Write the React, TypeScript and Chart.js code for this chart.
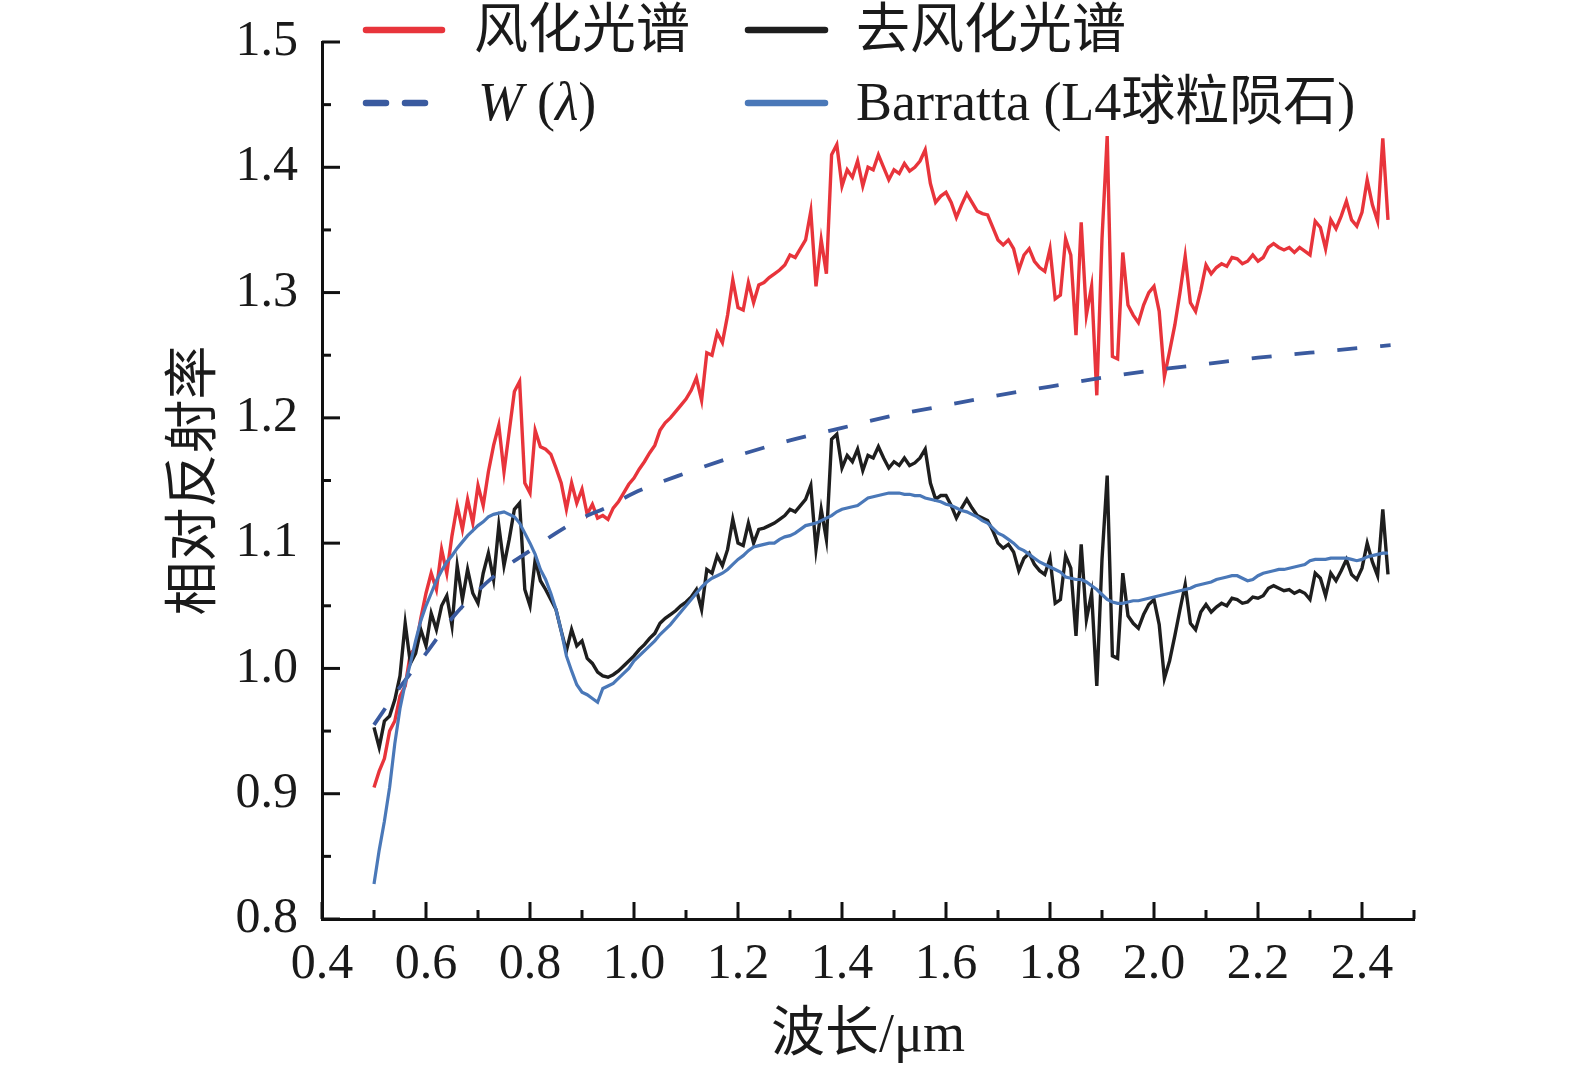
import React, { useEffect, useRef } from 'react';
import Chart from 'chart.js/auto';

// sampling grid of the spectra (µm)
const WL_START = 0.5;
const WL_STEP = 0.01;

// 风化光谱, 0.50 – 2.45 µm
const weathered = [
  0.905, 0.918, 0.928, 0.95, 0.958, 0.978, 0.986, 1.012, 1.016, 1.04, // 0.50
  1.06, 1.076, 1.063, 1.095, 1.076, 1.106, 1.13, 1.111, 1.135, 1.116, // 0.60
  1.146, 1.13, 1.157, 1.178, 1.194, 1.157, 1.189, 1.221, 1.229, 1.148, // 0.70
  1.14, 1.19, 1.177, 1.175, 1.171, 1.16, 1.148, 1.127, 1.148, 1.132, // 0.80
  1.143, 1.123, 1.131, 1.12, 1.122, 1.119, 1.128, 1.133, 1.14, 1.147, // 0.90
  1.152, 1.159, 1.165, 1.172, 1.178, 1.19, 1.196, 1.2, 1.205, 1.21, // 1.00
  1.215, 1.222, 1.232, 1.214, 1.252, 1.25, 1.268, 1.26, 1.282, 1.31, // 1.10
  1.288, 1.286, 1.308, 1.292, 1.306, 1.308, 1.312, 1.315, 1.318, 1.322, // 1.20
  1.33, 1.328, 1.335, 1.342, 1.365, 1.305, 1.342, 1.315, 1.41, 1.418, // 1.30
  1.385, 1.398, 1.392, 1.405, 1.385, 1.4, 1.398, 1.41, 1.4, 1.39, // 1.40
  1.398, 1.395, 1.403, 1.397, 1.4, 1.405, 1.414, 1.387, 1.372, 1.377, // 1.50
  1.38, 1.372, 1.36, 1.37, 1.379, 1.372, 1.365, 1.363, 1.362, 1.352, // 1.60
  1.342, 1.338, 1.342, 1.335, 1.318, 1.33, 1.335, 1.325, 1.32, 1.317, // 1.70
  1.335, 1.295, 1.298, 1.343, 1.33, 1.266, 1.356, 1.282, 1.305, 1.218, // 1.80
  1.343, 1.425, 1.249, 1.247, 1.332, 1.29, 1.282, 1.276, 1.29, 1.3, // 1.90
  1.305, 1.285, 1.233, 1.253, 1.274, 1.3, 1.329, 1.292, 1.285, 1.302, // 2.00
  1.322, 1.315, 1.32, 1.323, 1.321, 1.328, 1.327, 1.323, 1.325, 1.33, // 2.10
  1.325, 1.328, 1.336, 1.339, 1.336, 1.334, 1.336, 1.332, 1.336, 1.333, // 2.20
  1.33, 1.357, 1.352, 1.335, 1.358, 1.351, 1.361, 1.373, 1.358, 1.353, // 2.30
  1.364, 1.39, 1.37, 1.357, 1.423, 1.358, // 2.40
];

// 去风化光谱
const deweathered = [
  0.953, 0.937, 0.958, 0.962, 0.975, 0.994, 1.036, 1.004, 1.012, 1.031, // 0.50
  1.018, 1.044, 1.031, 1.05, 1.058, 1.034, 1.082, 1.055, 1.079, 1.06, // 0.60
  1.052, 1.076, 1.092, 1.071, 1.114, 1.082, 1.103, 1.127, 1.132, 1.063, // 0.70
  1.05, 1.087, 1.07, 1.063, 1.055, 1.047, 1.03, 1.014, 1.031, 1.018, // 0.80
  1.022, 1.008, 1.004, 0.997, 0.994, 0.993, 0.995, 0.998, 1.002, 1.006, // 0.90
  1.01, 1.015, 1.019, 1.024, 1.028, 1.036, 1.04, 1.043, 1.046, 1.05, // 1.00
  1.053, 1.057, 1.063, 1.047, 1.079, 1.076, 1.09, 1.082, 1.095, 1.119, // 1.10
  1.1, 1.098, 1.116, 1.1, 1.111, 1.112, 1.114, 1.116, 1.119, 1.122, // 1.20
  1.127, 1.125, 1.13, 1.135, 1.146, 1.095, 1.127, 1.103, 1.183, 1.187, // 1.30
  1.16, 1.17, 1.165, 1.175, 1.158, 1.17, 1.168, 1.177, 1.168, 1.16, // 1.40
  1.165, 1.162, 1.168, 1.162, 1.164, 1.168, 1.175, 1.148, 1.135, 1.138, // 1.50
  1.138, 1.13, 1.12, 1.128, 1.135, 1.128, 1.122, 1.12, 1.118, 1.11, // 1.60
  1.1, 1.096, 1.099, 1.093, 1.078, 1.088, 1.092, 1.083, 1.078, 1.075, // 1.70
  1.088, 1.052, 1.055, 1.09, 1.08, 1.026, 1.099, 1.039, 1.06, 0.986, // 1.80
  1.087, 1.154, 1.01, 1.008, 1.076, 1.042, 1.036, 1.032, 1.043, 1.051, // 1.90
  1.055, 1.035, 0.992, 1.006, 1.026, 1.047, 1.067, 1.036, 1.031, 1.045, // 2.00
  1.051, 1.045, 1.049, 1.052, 1.05, 1.056, 1.055, 1.052, 1.053, 1.057, // 2.10
  1.056, 1.058, 1.064, 1.066, 1.064, 1.062, 1.063, 1.06, 1.062, 1.06, // 2.20
  1.055, 1.076, 1.072, 1.058, 1.076, 1.07, 1.078, 1.087, 1.075, 1.071, // 2.30
  1.08, 1.1, 1.085, 1.074, 1.127, 1.075, // 2.40
];

// Barratta (L4球粒陨石)
const barratta = [
  0.828, 0.855, 0.878, 0.905, 0.94, 0.968, 0.988, 1.004, 1.022, 1.038, // 0.50
  1.05, 1.06, 1.07, 1.078, 1.085, 1.09, 1.096, 1.101, 1.106, 1.11, // 0.60
  1.114, 1.117, 1.121, 1.123, 1.124, 1.125, 1.123, 1.121, 1.116, 1.108, // 0.70
  1.1, 1.091, 1.079, 1.071, 1.06, 1.047, 1.03, 1.01, 0.998, 0.987, // 0.80
  0.981, 0.979, 0.976, 0.973, 0.984, 0.986, 0.988, 0.992, 0.996, 1.0, // 0.90
  1.006, 1.01, 1.014, 1.018, 1.022, 1.027, 1.031, 1.035, 1.04, 1.045, // 1.00
  1.05, 1.055, 1.06, 1.065, 1.069, 1.072, 1.074, 1.076, 1.079, 1.083, // 1.10
  1.087, 1.09, 1.094, 1.097, 1.098, 1.099, 1.1, 1.1, 1.103, 1.105, // 1.20
  1.106, 1.108, 1.111, 1.114, 1.115, 1.116, 1.118, 1.12, 1.122, 1.125, // 1.30
  1.127, 1.128, 1.129, 1.13, 1.133, 1.136, 1.137, 1.138, 1.139, 1.14, // 1.40
  1.14, 1.14, 1.139, 1.139, 1.138, 1.138, 1.136, 1.135, 1.134, 1.133, // 1.50
  1.131, 1.13, 1.128, 1.126, 1.125, 1.123, 1.121, 1.118, 1.116, 1.112, // 1.60
  1.108, 1.106, 1.103, 1.1, 1.096, 1.094, 1.091, 1.088, 1.085, 1.083, // 1.70
  1.081, 1.079, 1.077, 1.073, 1.072, 1.071, 1.071, 1.069, 1.066, 1.063, // 1.80
  1.059, 1.055, 1.053, 1.052, 1.052, 1.053, 1.054, 1.054, 1.055, 1.056, // 1.90
  1.057, 1.058, 1.059, 1.06, 1.061, 1.062, 1.063, 1.064, 1.066, 1.067, // 2.00
  1.068, 1.069, 1.071, 1.072, 1.073, 1.074, 1.074, 1.072, 1.07, 1.071, // 2.10
  1.074, 1.076, 1.077, 1.078, 1.079, 1.079, 1.08, 1.081, 1.082, 1.083, // 2.20
  1.086, 1.087, 1.087, 1.087, 1.088, 1.088, 1.088, 1.088, 1.087, 1.086, // 2.30
  1.087, 1.089, 1.09, 1.091, 1.092, 1.092, // 2.40
];

// W(λ), smooth curve
const wLambdaX = [0.5, 0.55, 0.6, 0.65, 0.7, 0.75, 0.8, 0.85, 0.9, 0.95, 1.0, 1.1, 1.2, 1.3, 1.4, 1.5, 1.6, 1.7, 1.8, 1.9, 2.0, 2.1, 2.2, 2.3, 2.4, 2.455];
const wLambdaY = [0.955, 0.985, 1.012, 1.04, 1.062, 1.08, 1.094, 1.108, 1.12, 1.129, 1.14, 1.156, 1.17, 1.182, 1.192, 1.202, 1.21, 1.218, 1.225, 1.232, 1.238, 1.243, 1.248, 1.252, 1.256, 1.258];

const RED = '#e8343b';
const BLACK = '#1e1e1e';
const DASH_BLUE = '#3a5a9f';
const BLUE = '#4a78b8';

const SERIF = "'Liberation Serif', 'Noto Sans CJK SC', serif";

const wavelengths = weathered.map((_, i) => Number((WL_START + i * WL_STEP).toFixed(2)));
const toPoints = (ys: number[]) => ys.map((y, i) => ({ x: wavelengths[i], y }));

// tick marks drawn inward, like the original figure
const innerTicks = {
  id: 'innerTicks',
  afterDatasetsDraw(chart: any) {
    const { ctx, chartArea, scales } = chart;
    ctx.save();
    ctx.strokeStyle = '#111';
    ctx.lineWidth = 3;
    scales.x.ticks.forEach((t: any) => {
      const px = scales.x.getPixelForValue(t.value);
      const len = Math.round(t.value * 10) % 2 === 0 ? 17 : 9;
      ctx.beginPath();
      ctx.moveTo(px, chartArea.bottom);
      ctx.lineTo(px, chartArea.bottom - len);
      ctx.stroke();
    });
    scales.y.ticks.forEach((t: any) => {
      const py = scales.y.getPixelForValue(t.value);
      const len = Math.round(t.value * 20) % 2 === 0 ? 18 : 9;
      ctx.beginPath();
      ctx.moveTo(chartArea.left, py);
      ctx.lineTo(chartArea.left + len, py);
      ctx.stroke();
    });
    ctx.restore();
  },
};

const legendBox = {
  id: 'legendBox',
  afterDraw(chart: any) {
    const { ctx } = chart;
    ctx.save();
    ctx.lineCap = 'round';
    ctx.lineWidth = 6.5;
    ctx.textBaseline = 'middle';
    ctx.fillStyle = '#1a1a1a';

    const sample = (x1: number, x2: number, y: number, color: string, dash: number[]) => {
      ctx.strokeStyle = color;
      ctx.setLineDash(dash);
      ctx.beginPath();
      ctx.moveTo(x1, y);
      ctx.lineTo(x2, y);
      ctx.stroke();
      ctx.setLineDash([]);
    };

    ctx.font = `54px ${SERIF}`;
    sample(366, 442, 30, RED, []);
    ctx.fillText('风化光谱', 474, 34);
    sample(748, 825, 30, BLACK, []);
    ctx.fillText('去风化光谱', 856, 34);

    sample(366, 431, 103, DASH_BLUE, [20, 19]);
    let x = 478;
    ctx.font = `italic 54px ${SERIF}`;
    ctx.fillText('W', x, 106);
    x += ctx.measureText('W').width + 14;
    ctx.font = `54px ${SERIF}`;
    ctx.fillText('(', x, 106);
    x += ctx.measureText('(').width;
    ctx.font = `italic 54px ${SERIF}`;
    ctx.fillText('λ', x, 106);
    x += ctx.measureText('λ').width;
    ctx.font = `54px ${SERIF}`;
    ctx.fillText(')', x, 106);

    sample(748, 825, 103, BLUE, []);
    ctx.fillText('Barratta (L4球粒陨石)', 856, 106);
    ctx.restore();
  },
};

const SpectraChart: React.FC = () => {
  const chartRef = useRef<HTMLCanvasElement>(null);
  const chartInstance = useRef<Chart | null>(null);

  useEffect(() => {
    if (!chartRef.current) return;
    if (chartInstance.current) chartInstance.current.destroy();

    const lineStyle = { pointRadius: 0, borderWidth: 3.4, tension: 0, fill: false };

    chartInstance.current = new Chart(chartRef.current, {
      type: 'line',
      data: {
        datasets: [
          { label: 'Barratta (L4球粒陨石)', data: toPoints(barratta), borderColor: BLUE, ...lineStyle, borderWidth: 3.2 },
          {
            label: 'W (λ)',
            data: wLambdaX.map((x, i) => ({ x, y: wLambdaY[i] })),
            borderColor: DASH_BLUE,
            borderDash: [20, 23],
            pointRadius: 0,
            borderWidth: 3.8,
            cubicInterpolationMode: 'monotone',
            fill: false,
          },
          { label: '去风化光谱', data: toPoints(deweathered), borderColor: BLACK, ...lineStyle },
          { label: '风化光谱', data: toPoints(weathered), borderColor: RED, ...lineStyle },
        ],
      },
      options: {
        animation: false,
        responsive: true,
        maintainAspectRatio: false,
        layout: { padding: { top: 42, right: 161, bottom: 0, left: 0 } },
        plugins: {
          legend: { display: false },
          tooltip: { enabled: false },
        },
        scales: {
          x: {
            type: 'linear',
            min: 0.4,
            max: 2.5,
            afterFit: (scale: any) => {
              scale.height = 146;
              scale.paddingLeft = 0;
              scale.paddingRight = 0;
            },
            grid: { display: true, drawOnChartArea: false, drawTicks: false },
            border: { display: true, color: '#111', width: 3 },
            ticks: {
              stepSize: 0.1,
              padding: 16,
              color: '#1a1a1a',
              font: { family: SERIF, size: 50 },
              maxRotation: 0,
              autoSkip: false,
              callback: (v: any) => (Math.round(Number(v) * 10) % 2 === 0 ? Number(v).toFixed(1) : ''),
            },
            title: {
              display: true,
              text: '波长/μm',
              color: '#1a1a1a',
              font: { family: SERIF, size: 54, lineHeight: 1.0 },
              padding: { top: 0, bottom: 1 },
            },
          },
          y: {
            min: 0.8,
            max: 1.5,
            afterFit: (scale: any) => {
              scale.width = 322;
              scale.paddingTop = 0;
              scale.paddingBottom = 0;
            },
            grid: { display: true, drawOnChartArea: false, drawTicks: false },
            border: { display: true, color: '#111', width: 3 },
            ticks: {
              stepSize: 0.05,
              padding: 24,
              color: '#1a1a1a',
              font: { family: SERIF, size: 50 },
              autoSkip: false,
              callback: (v: any) => (Math.round(Number(v) * 20) % 2 === 0 ? Number(v).toFixed(1) : ''),
            },
            title: {
              display: true,
              text: '相对反射率',
              color: '#1a1a1a',
              font: { family: SERIF, size: 54 },
              padding: { top: 164, bottom: 0 },
            },
          },
        },
      },
      plugins: [innerTicks, legendBox],
    } as any);

    return () => {
      if (chartInstance.current) {
        chartInstance.current.destroy();
        chartInstance.current = null;
      }
    };
  }, []);

  return (
    <div style={{ position: 'fixed', left: 0, top: 0, width: 1575, height: 1065, background: '#fff' }}>
      <canvas ref={chartRef}></canvas>
    </div>
  );
};

export default function App() {
  return <SpectraChart />;
}
